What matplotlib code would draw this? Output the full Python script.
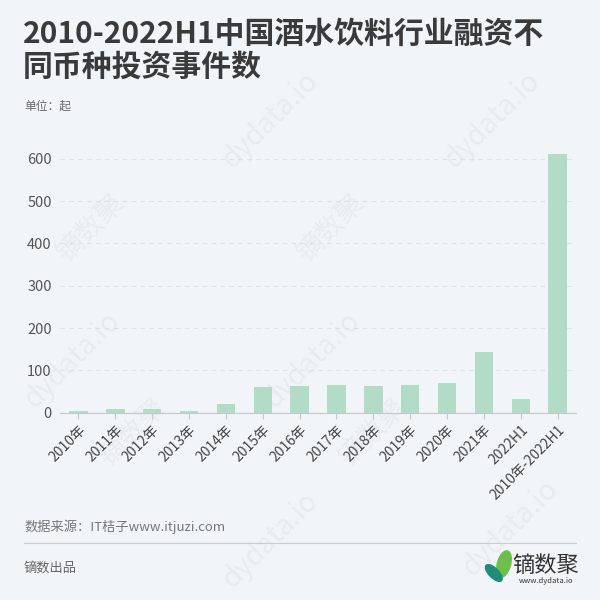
import matplotlib
matplotlib.use("Agg")
import matplotlib.pyplot as plt
from matplotlib.patches import Ellipse
from matplotlib.lines import Line2D

plt.rcParams['font.family'] = ['Noto Sans CJK SC', 'DejaVu Sans']

categories = ["2010年", "2011年", "2012年", "2013年", "2014年", "2015年", "2016年",
              "2017年", "2018年", "2019年", "2020年", "2021年", "2022H1", "2010年-2022H1"]
values = [5, 8, 9, 5, 21, 62, 64, 65, 63, 65, 70, 143, 33, 611]
yticks = [0, 100, 200, 300, 400, 500, 600]

title = "2010-2022H1中国酒水饮料行业融资不\n同币种投资事件数"
unit = "单位：起"
source = "数据来源：IT桔子www.itjuzi.com"
footer = "镝数出品"

BG = "#f2f5f7"
BAR = "#b3dcc7"

fig = plt.figure(figsize=(6, 6), dpi=100, facecolor=BG)

# faint watermarks
wm_pos = [(0.15, 0.62, "镝数聚"), (0.55, 0.62, "镝数聚"),
          (0.22, 0.28, "镝数聚"), (0.62, 0.28, "镝数聚"),
          (0.45, 0.80, "dydata.io"), (0.82, 0.80, "dydata.io"),
          (0.12, 0.40, "dydata.io"), (0.52, 0.40, "dydata.io"),
          (0.45, 0.10, "dydata.io"), (0.85, 0.12, "dydata.io")]
for x, y, t in wm_pos:
    fig.text(x, y, t, rotation=45, fontsize=20, color="#e8ecee", ha="center", va="center",
             zorder=-5)

ax = fig.add_axes([0.1, 0.312, 0.86, 0.4375])
ax.set_zorder(2)
ax.set_facecolor("none")
x = range(len(categories))
ax.bar(x, values, width=0.5, color=BAR, zorder=3)
ax.set_xlim(-0.5, len(categories) - 0.5)
ax.set_ylim(0, 620)
ax.set_yticks(yticks)
ax.set_yticklabels([str(v) for v in yticks], fontsize=10.5, color="#555555")
ax.set_xticks(list(x))
ax.set_xticklabels(categories, rotation=45, ha="right", rotation_mode="anchor",
                   fontsize=10, color="#444444")
for s in ["top", "right", "left"]:
    ax.spines[s].set_visible(False)
ax.spines["bottom"].set_color("#c4c8ca")
ax.tick_params(axis="y", length=0, pad=6)
ax.tick_params(axis="x", length=4, color="#c4c8ca", pad=3)
ax.yaxis.grid(True, linestyle=(0, (4, 4)), color="#dde2e5", linewidth=0.8, zorder=0)
ax.set_axisbelow(True)

fig.text(0.038, 0.968, title, fontsize=21.5, fontweight="bold", color="#3a3a3a",
         ha="left", va="top", linespacing=1.1)
fig.text(0.04, 0.823, unit, fontsize=8.5, color="#666666", ha="left", va="center")
fig.text(0.04, 0.122, source, fontsize=9.5, color="#777777", ha="left", va="center")
fig.add_artist(Line2D([0.04, 0.96], [0.095, 0.095], transform=fig.transFigure,
                      color="#c8cccf", linewidth=0.8))
fig.text(0.04, 0.053, footer, fontsize=9.5, color="#666666", ha="left", va="center")

# logo
fig.text(0.91, 0.058, "镝数聚", fontsize=16, color="#333333", ha="center", va="center")
fig.text(0.91, 0.031, "www.dydata.io", fontsize=5.5, color="#333333", ha="center", va="center")
fig.add_artist(Ellipse((0.84, 0.06), 0.022, 0.045, angle=-15, transform=fig.transFigure,
                       color="#6cc04a", zorder=5))
fig.add_artist(Ellipse((0.823, 0.045), 0.016, 0.036, angle=45, transform=fig.transFigure,
                       color="#1e8c7a", zorder=5))

fig.savefig("out.png", dpi=100, facecolor=BG)
